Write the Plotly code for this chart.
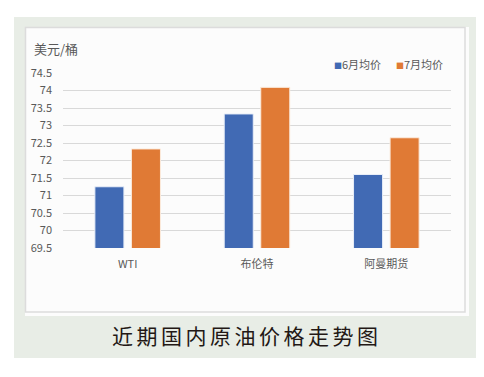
import plotly.graph_objects as go

categories = ["WTI", "布伦特", "阿曼期货"]
june_avg = [71.25, 73.33, 71.60]
july_avg = [72.33, 74.09, 72.65]
series_names = ["6月均价", "7月均价"]
series_colors = ["#416AB4", "#E07A35"]
tick_vals = [69.5, 70, 70.5, 71, 71.5, 72, 72.5, 73, 73.5, 74, 74.5]
tick_text = ["69.5", "70", "70.5", "71", "71.5", "72", "72.5", "73", "73.5", "74", "74.5"]
y_unit = "美元/桶"
caption = "近期国内原油价格走势图"

W, H = 484, 377
OFF = 8  # page body margin
# plot area in page pixels: x 63..451, y 73..248
L, T = 63 - OFF, 73 - OFF
R, B = W - (451 - OFF), H - (248 - OFF)
PW, PH = W - L - R, H - T - B


def px_x(px):
    return (px - OFF - L) / PW


def px_y(py):
    return (H - B - (py - OFF)) / PH


fig = go.Figure()
fig.add_trace(go.Bar(x=categories, y=june_avg, name=series_names[0],
                     marker=dict(color=series_colors[0], line=dict(color="#E8EEF8", width=1))))
fig.add_trace(go.Bar(x=categories, y=july_avg, name=series_names[1],
                     marker=dict(color=series_colors[1], line=dict(color="#FBEBDD", width=1))))

font_cjk = "Noto Sans CJK SC, Microsoft YaHei, sans-serif"

legend_x = [332, 394]
legend_annotations = []
for name, color, x in zip(series_names, series_colors, legend_x):
    legend_annotations.append(dict(
        text=f"<span style='color:{color};font-size:8px'>■</span>{name}",
        xref="paper", yref="paper", x=px_x(x), y=px_y(64),
        xanchor="left", yanchor="middle", showarrow=False,
        font=dict(size=11, color="#595959", family=font_cjk)))

fig.update_layout(
    width=W, height=H,
    margin=dict(l=L, r=R, t=T, b=B, pad=0),
    paper_bgcolor="white",
    plot_bgcolor="rgba(0,0,0,0)",
    barmode="group",
    bargap=0.435,
    bargroupgap=0.205,
    font=dict(family=font_cjk, color="#595959", size=11),
    showlegend=False,
    xaxis=dict(showgrid=False, showline=False, ticks="", tickfont=dict(size=11, color="#595959"),
               ticklabelstandoff=8),
    yaxis=dict(range=[69.5, 74.5], tickvals=tick_vals, ticktext=tick_text,
               showgrid=True, gridcolor="#D9D9D9", gridwidth=1, zeroline=False,
               showline=False, ticks="", tickfont=dict(size=11, color="#595959"),
               ticklabelstandoff=10),
    shapes=[
        dict(type="rect", xref="paper", yref="paper", layer="below",
             x0=px_x(14), x1=px_x(481), y0=px_y(358), y1=px_y(17),
             fillcolor="#E8EDE6", line=dict(width=0)),
        dict(type="rect", xref="paper", yref="paper", layer="below",
             x0=px_x(25), x1=px_x(469), y0=px_y(316), y1=px_y(27),
             fillcolor="#FCFCFC", line=dict(width=0)),
        dict(type="rect", xref="paper", yref="paper", layer="below",
             x0=px_x(25.5), x1=px_x(465), y0=px_y(312), y1=px_y(27.5),
             fillcolor="rgba(0,0,0,0)", line=dict(color="#DCDCDC", width=1.5)),
    ],
    annotations=[
        dict(text=y_unit, xref="paper", yref="paper", x=px_x(32), y=px_y(48),
             xanchor="left", yanchor="middle", showarrow=False,
             font=dict(size=13, color="#595959", family=font_cjk)),
        dict(text=f"<span style='letter-spacing:3.5px'>{caption}</span>",
             xref="paper", yref="paper", x=px_x(247), y=px_y(335),
             xanchor="center", yanchor="middle", showarrow=False,
             font=dict(size=21, color="#231815", family=font_cjk)),
    ] + legend_annotations,
)

fig.write_html("out.html")
